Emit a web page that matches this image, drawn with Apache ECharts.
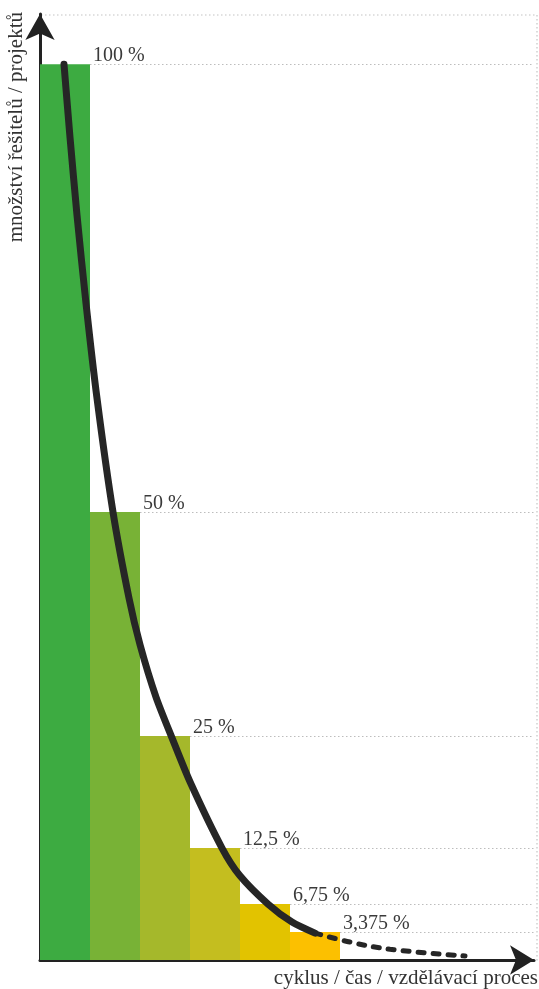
<!DOCTYPE html>
<html>
<head>
<meta charset="utf-8">
<script src="https://cdn.jsdelivr.net/npm/echarts@6/dist/echarts.min.js"></script>
<style>html,body{margin:0;padding:0;background:#fff}#c{width:539px;height:989px}</style>
</head>
<body>
<div id="c"></div>
<script>
// Data
var barPositions = [0.5, 1.5, 2.5, 3.5, 4.5, 5.5];
var barValues = [100, 50, 25, 12.5, 6.25, 3.125];
var barLabels = ['100 %', '50 %', '25 %', '12,5 %', '6,75 %', '3,375 %'];
var barColors = ['#3dab41', '#78b236', '#a5b82b', '#c4be1f', '#e2c300', '#fcc000'];
var curveX = [0.48, 0.60, 0.74, 0.92, 1.14, 1.46, 1.78, 2.00, 2.32, 2.64, 3.00, 3.64, 4.00, 4.56, 5.04, 5.50];
var curveY = [100, 91.85, 83.15, 73.3, 62.7, 50, 40.4, 35.2, 29.35, 24.8, 19.9, 12.5, 9.4, 6.25, 4.24, 3.0];
var tailX = [5.50, 6.20, 7.00, 8.50];
var tailY = [3.0, 2.0, 1.2, 0.45];
var xAxisName = 'cyklus / čas / vzdělávací proces';
var yAxisName = 'množství řešitelů / projektů';

var X_MAX = 9.88;
var Y_MAX = 105.6;
var FONT = 'Liberation Serif';

var chart = echarts.init(document.getElementById('c'), null, {renderer: 'canvas'});

var barData = barPositions.map(function (x, i) {
  return {
    value: [x, barValues[i]],
    itemStyle: {color: barColors[i]},
    label: {formatter: barLabels[i]}
  };
});

var markLines = barPositions.map(function (x, i) {
  return [{coord: [x + 0.5, barValues[i]]}, {coord: [X_MAX, barValues[i]]}];
});

chart.setOption({
  animation: false,
  grid: {left: 40, right: 5, top: 14, bottom: 29, containLabel: false, outerBoundsMode: 'none'},
  xAxis: {
    type: 'value', min: 0, max: X_MAX,
    axisLine: {show: true, lineStyle: {color: '#222', width: 3}, symbol: ['none', 'arrow'], symbolSize: [22, 24]},
    axisTick: {show: false}, axisLabel: {show: false}, splitLine: {show: false},
    name: xAxisName, nameLocation: 'end', nameGap: 4,
    nameTextStyle: {fontFamily: FONT, fontSize: 21, color: '#333', align: 'right', verticalAlign: 'top', padding: [8, 0, 0, 0]}
  },
  yAxis: {
    type: 'value', min: 0, max: Y_MAX,
    axisLine: {show: true, lineStyle: {color: '#222', width: 3}, symbol: ['none', 'arrow'], symbolSize: [22, 26]},
    axisTick: {show: false}, axisLabel: {show: false}, splitLine: {show: false},
    name: yAxisName, nameLocation: 'end', nameGap: 2, nameRotate: 90,
    nameTextStyle: {fontFamily: FONT, fontSize: 21, color: '#333', align: 'right', verticalAlign: 'bottom', padding: [0, 0, 13, 0]}
  },
  graphic: [{
    type: 'rect', z: 0, silent: true,
    shape: {x: 41, y: 15, width: 496, height: 945},
    style: {fill: 'none', stroke: '#c4c4c4', lineWidth: 1.2, lineDash: [1.5, 2.5]}
  }],
  series: [
    {
      type: 'bar', barWidth: 50, data: barData, z: 2,
      label: {show: true, position: [53, 2], align: 'left', verticalAlign: 'bottom',
        fontFamily: FONT, fontSize: 20, color: '#3a3a3a'},
      markLine: {
        silent: true, symbol: 'none', label: {show: false},
        lineStyle: {type: [1.5, 2.5], color: '#bdbdbd', width: 1.2},
        data: markLines
      }
    },
    {
      type: 'line', smooth: 0.25, showSymbol: false, z: 5,
      data: curveX.map(function (x, i) { return [x, curveY[i]]; }),
      lineStyle: {color: '#262626', width: 7, cap: 'round', join: 'round'}
    },
    {
      type: 'line', smooth: 0.4, showSymbol: false, z: 5,
      data: tailX.map(function (x, i) { return [x, tailY[i]]; }),
      lineStyle: {color: '#262626', width: 5, type: [6, 9], cap: 'round'}
    }
  ]
});
</script>
</body>
</html>
